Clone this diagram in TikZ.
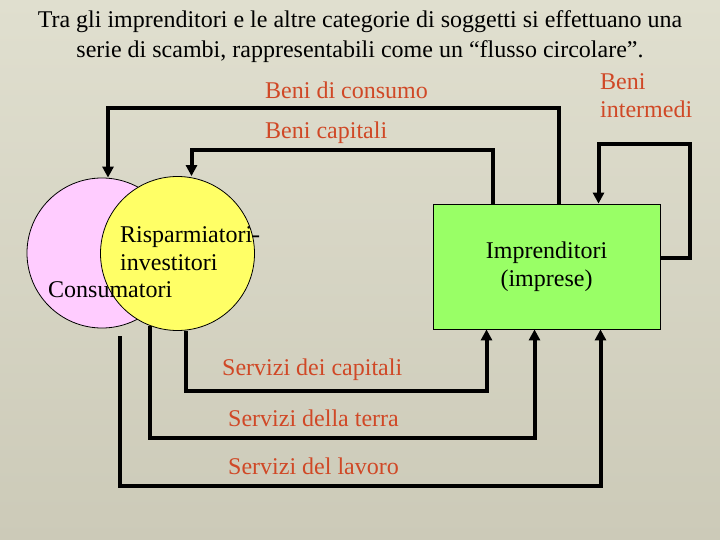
\documentclass[tikz,border=0pt]{standalone}
\usepackage{fontspec}
\setmainfont{Liberation Serif}
\usepackage{xcolor}
\usetikzlibrary{positioning,arrows.meta,calc}
\definecolor{flowred}{RGB}{208,72,38}
\definecolor{bgtop}{RGB}{224,223,207}
\definecolor{bgbot}{RGB}{204,202,184}
\definecolor{rosa}{RGB}{255,204,255}
\definecolor{giallo}{RGB}{255,255,102}
\definecolor{verde}{RGB}{153,255,102}
\tikzset{
  >=Triangle,
  flow/.style={-{Triangle[length=11pt,width=11pt]},line width=4pt},
  soggetto/.style={circle,draw,line width=0.8pt,inner sep=0pt},
  impresa/.style={rectangle,draw,line width=0.8pt,fill=verde,minimum width=227pt,minimum height=125pt,align=center},
  flowlabel/.style={anchor=west,inner sep=0pt,text=flowred,align=left}
}

\begin{document}
\begin{tikzpicture}[x=1pt,y=-1pt,font=\fontsize{24}{28}\selectfont]
    \shade[top color=bgtop,bottom color=bgbot] (0,0) rectangle (720,540);
    \useasboundingbox (0,0) rectangle (720,540);

    \node[align=center,font=\fontsize{24}{30}\selectfont] (titolo) at (360,37)
        {Tra gli imprenditori e le altre categorie di soggetti si effettuano una\\serie di scambi, rappresentabili come un “flusso circolare”.};

    \node[soggetto,fill=rosa,minimum size=150pt] (cons) at (102,253) {};
    \node[soggetto,fill=giallo,minimum size=154pt] (ris) at (177.5,253.5) {};
    \node[anchor=west,inner sep=0pt,align=left] (ristxt) at (120,249) {Risparmiatori-\\investitori};
    \node[anchor=west,inner sep=0pt] (constxt) at (48,290) {Consumatori};
    \node[impresa] (imp) at (546.5,266.5) {Imprenditori\\(imprese)};

    % beni
    \draw[flow] ([xshift=12pt]imp.north) -- ++(0,-96) -| ([xshift=6pt]cons.north);
    \draw[flow] ([xshift=-54pt]imp.north) -- ++(0,-54) -| ([xshift=14pt]ris.north);
    \draw[flow] ([yshift=9pt]imp.east) -- ++(30,0) -- ++(0,-113) -| ([xshift=52pt]imp.north);

    % servizi
    \draw[flow] ([xshift=8pt]ris.south) -- ++(0,60) -| ([xshift=-60pt]imp.south);
    \draw[flow] (ris.-111) -- ++(0,112) -| ([xshift=-12pt]imp.south);
    \draw[flow] ([yshift=-10pt]cons.-76) -- ++(0,150) -| ([xshift=54pt]imp.south);

    \node[flowlabel] (lcons) at (265,90) {Beni di consumo};
    \node[flowlabel] (lcap) at (265,133) {Beni capitali};
    \node[flowlabel] (lint) at (600,96) {Beni\\intermedi};
    \node[flowlabel] (lsc) at (222,370) {Servizi dei capitali};
    \node[flowlabel] (lst) at (228,418) {Servizi della terra};
    \node[flowlabel] (lsl) at (228,466) {Servizi del lavoro};
\end{tikzpicture}
\end{document}
